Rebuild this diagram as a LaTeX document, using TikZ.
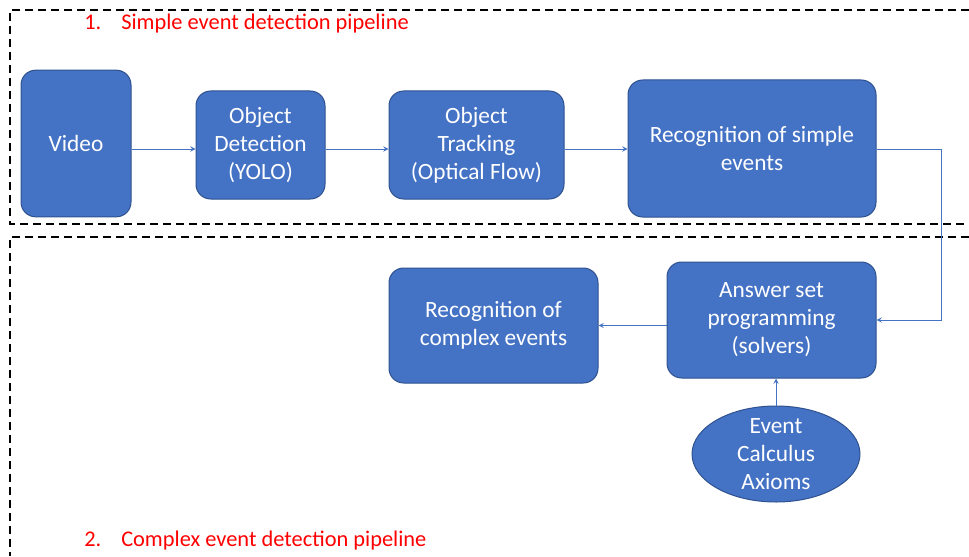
\documentclass[tikz,border=0pt]{standalone}
\usepackage{fontspec}
\setmainfont{Carlito}
\usepackage{tikz}
\usetikzlibrary{positioning}
\usetikzlibrary{shapes.geometric}
\definecolor{boxblue}{HTML}{4472C4}
\definecolor{boxedge}{HTML}{2F528F}
\tikzset{%
  b/.style = {rectangle,draw=boxedge,fill=boxblue,line width=0.75pt,
        rounded corners=11pt,inner sep=0pt,text=white,align=center,
        font=\fontsize{17.5}{21}\selectfont},
  e/.style = {ellipse,draw=boxedge,fill=boxblue,line width=0.75pt,
        inner sep=0pt,minimum width=126pt,minimum height=72pt},
  etext/.style = {text=white,align=center,inner sep=0pt,
        font=\fontsize{17.5}{21}\selectfont},
  flow/.style = {-stealth,draw=boxblue,line width=0.75pt},
  pipe/.style = {dash pattern=on 6pt off 3.75pt,line width=1.2pt},
  stage/.style = {text=red,anchor=west,inner sep=0pt,
        font=\fontsize{16.8}{20}\selectfont}
}
\begin{document}
\begin{tikzpicture}[x=0.75pt,y=-0.75pt]
  \useasboundingbox (0,0) rectangle (969,556);

  % the two pipeline frames
  \draw[pipe] (969,10) -- (10,10) -- (10,224) -- (969,224);
  \draw[pipe] (969,237) -- (10,237) -- (10,556);
  \node[stage] (s1) at (84,24) {\makebox[27.75pt][l]{1.}Simple event detection pipeline};
  \node[stage] (s2) at (84,541) {\makebox[27.75pt][l]{2.}Complex event detection pipeline};

  % simple events
  \node[b,minimum width=82.5pt,minimum height=110pt] (video) at (76,143.5) {Video};
  \node[b,minimum width=96.75pt,minimum height=81pt] (detect) at (260.5,145) {Object\\Detection\\(YOLO)};
  \node[b,minimum width=131.25pt,minimum height=81pt] (track) at (476.5,145) {Object\\Tracking\\(Optical Flow)};
  \node[b,minimum width=186pt,minimum height=102.75pt] (simple) at (752,148.5) {Recognition of simple\\events};
  \coordinate (row) at (0,149);

  % complex events
  \node[b,minimum width=156.75pt,minimum height=87pt] (asp) at (771.5,320) {Answer set\\programming\\(solvers)};
  \node[b,minimum width=156.75pt,minimum height=86.25pt] (complex) at (493.5,325.5) {Recognition of\\complex events};
  \node[e,label={[etext]center:Event\\Calculus\\Axioms}] (axioms) at (776,454) {};

  \draw[flow] (video.east |- row) -- (detect.west |- row);
  \draw[flow] (detect.east |- row) -- (track.west |- row);
  \draw[flow] (track.east |- row) -- (simple.west |- row);
  \draw[flow] (simple.east |- row) -- ++(65,0) |- (asp.east);
  \draw[flow] (asp.west |- complex) -- (complex.east);
  \draw[flow] (axioms.north) -- (axioms.north |- asp.south);
\end{tikzpicture}
\end{document}
